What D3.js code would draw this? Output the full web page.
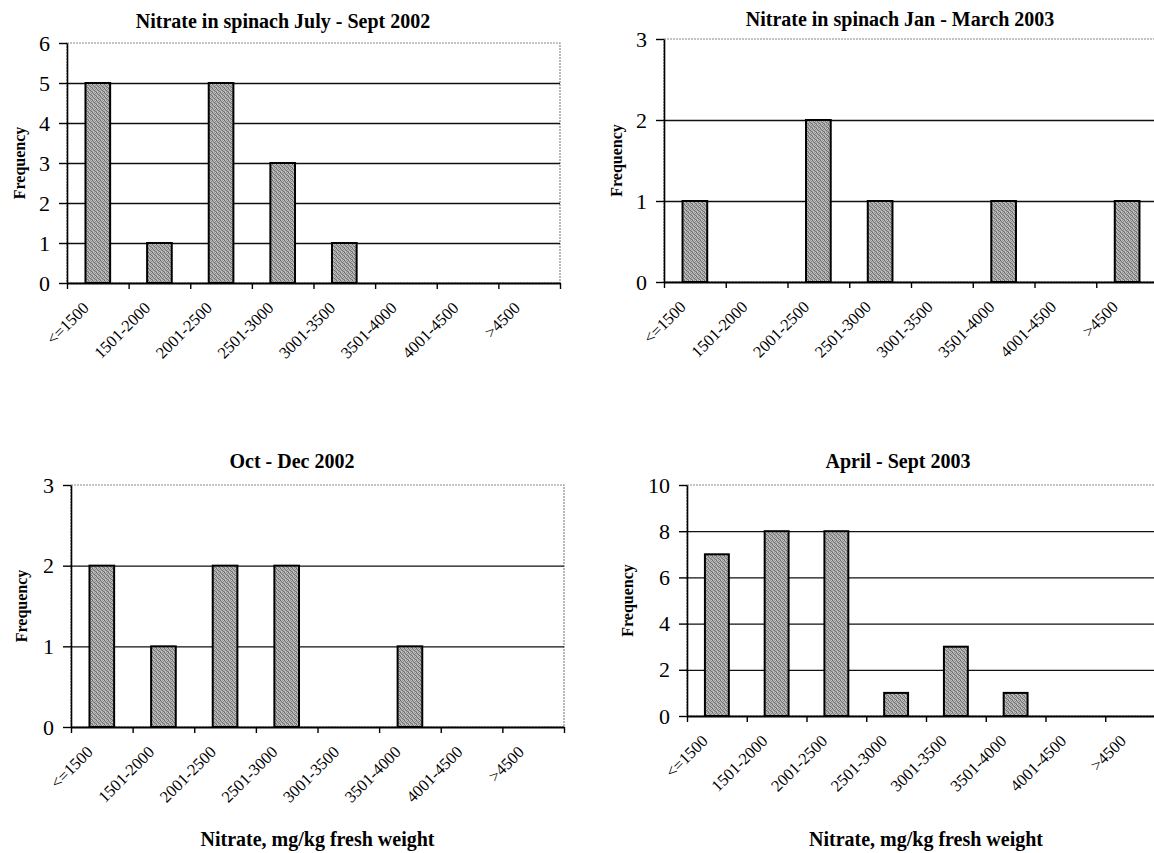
<!DOCTYPE html>
<html>
<head>
<meta charset="utf-8">
<script src="https://cdn.jsdelivr.net/npm/d3@7"></script>
<style>
  html, body { margin: 0; padding: 0; background: #fff; }
  svg { display: block; }
  text { font-family: "Liberation Serif", "Times New Roman", serif; fill: #000; }
</style>
</head>
<body>
<svg id="chart" width="1154" height="853"></svg>
<script>
// ---- data ----
const categories = ["<=1500", "1501-2000", "2001-2500", "2501-3000", "3001-3500", "3501-4000", "4001-4500", ">4500"];
const julySept2002 = [5, 1, 5, 3, 1, 0, 0, 0];
const janMarch2003 = [1, 0, 2, 1, 0, 1, 0, 1];
const octDec2002 = [2, 1, 2, 2, 0, 1, 0, 0];
const aprilSept2003 = [7, 8, 8, 1, 3, 1, 0, 0];
const yTicksJulySept2002 = [0, 1, 2, 3, 4, 5, 6];
const yTicksJanMarch2003 = [0, 1, 2, 3];
const yTicksOctDec2002 = [0, 1, 2, 3];
const yTicksAprilSept2003 = [0, 2, 4, 6, 8, 10];
const titles = ["Nitrate in spinach July - Sept  2002", "Nitrate in spinach Jan - March  2003", "Oct - Dec  2002", "April - Sept  2003"];
const yAxisTitle = "Frequency";
const xAxisTitle = "Nitrate, mg/kg fresh weight";

// ---- layout ----
const panels = [
  { title: titles[0], values: julySept2002, ticks: yTicksJulySept2002, left: 67, right: 560, top: 43, bottom: 283, titleX: 283, titleY: 28, freqX: 19, xTitle: false },
  { title: titles[1], values: janMarch2003, ticks: yTicksJanMarch2003, left: 664, right: 1158, top: 39, bottom: 282, titleX: 900, titleY: 26, freqX: 616, xTitle: false },
  { title: titles[2], values: octDec2002, ticks: yTicksOctDec2002, left: 71, right: 564, top: 485, bottom: 727, titleX: 292, titleY: 468, freqX: 21, xTitle: true },
  { title: titles[3], values: aprilSept2003, ticks: yTicksAprilSept2003, left: 687, right: 1165, top: 485, bottom: 716, titleX: 898, titleY: 468, freqX: 627, xTitle: true }
];

const svg = d3.select("#chart");
const defs = svg.append("defs");
// stipple fill resembling the scanned halftone grey
const stippleCells = [
  "#6a6a6a", "#b8b8b8", "#9a9a9a", "#c4c4c4",
  "#a8a8a8", "#7e7e7e", "#c0c0c0", "#8a8a8a",
  "#bcbcbc", "#969696", "#707070", "#b0b0b0",
  "#8e8e8e", "#c6c6c6", "#a2a2a2", "#787878"
];
const pat = defs.append("pattern").attr("id", "stipple").attr("width", 4).attr("height", 4).attr("patternUnits", "userSpaceOnUse");
pat.selectAll("rect").data(stippleCells).join("rect")
  .attr("x", (d, i) => i % 4).attr("y", (d, i) => Math.floor(i / 4))
  .attr("width", 1).attr("height", 1).attr("fill", d => d);

panels.forEach(p => {
  const g = svg.append("g");
  const yMax = d3.max(p.ticks);
  const x = d3.scaleBand().domain(categories).range([p.left, p.right]).paddingInner(0.6).paddingOuter(0.3);
  const xb = d3.scaleLinear().domain([0, categories.length]).range([p.left, p.right]);
  const y = d3.scaleLinear().domain([0, yMax]).range([p.bottom, p.top]);

  // plot border (dotted grey)
  g.append("rect")
    .attr("x", p.left).attr("y", p.top)
    .attr("width", p.right - p.left).attr("height", p.bottom - p.top)
    .attr("fill", "none").attr("stroke", "#8a8a8a").attr("stroke-width", 1.2)
    .attr("stroke-dasharray", "2,1");

  // gridlines
  g.append("g")
    .attr("transform", `translate(${p.left},0)`)
    .call(d3.axisLeft(y).tickValues(p.ticks.filter(t => t > 0 && t < yMax)).tickSize(-(p.right - p.left)).tickFormat(""))
    .call(s => s.select(".domain").remove())
    .call(s => s.selectAll("line").attr("stroke", "#111").attr("stroke-width", 1.3));

  // bars
  g.append("g").selectAll("rect")
    .data(p.values.map((v, i) => ({ c: categories[i], v })).filter(d => d.v > 0))
    .join("rect")
    .attr("x", d => x(d.c))
    .attr("y", d => y(d.v))
    .attr("width", x.bandwidth())
    .attr("height", d => y(0) - y(d.v))
    .attr("fill", "url(#stipple)")
    .attr("stroke", "#000")
    .attr("stroke-width", 2);

  // y axis
  g.append("g")
    .attr("transform", `translate(${p.left},0)`)
    .call(d3.axisLeft(y).tickValues(p.ticks).tickSize(8).tickPadding(9).tickSizeOuter(0).tickFormat(d3.format("d")))
    .call(s => s.select(".domain").attr("stroke", "#000").attr("stroke-width", 1.6))
    .call(s => s.selectAll("line").attr("stroke", "#000").attr("stroke-width", 1.4))
    .call(s => s.selectAll("text").attr("font-size", 22).attr("font-family", "'Liberation Serif', 'Times New Roman', serif").attr("fill", "#000"));

  // x axis: boundary tick marks
  g.append("g")
    .attr("transform", `translate(0,${p.bottom})`)
    .call(d3.axisBottom(xb).tickValues(d3.range(categories.length + 1)).tickSize(6).tickSizeOuter(0).tickFormat(""))
    .call(s => s.select(".domain").attr("stroke", "#000").attr("stroke-width", 1.8))
    .call(s => s.selectAll("line").attr("stroke", "#000").attr("stroke-width", 1.4));

  // x axis: category labels rotated
  g.append("g")
    .attr("transform", `translate(0,${p.bottom})`)
    .call(d3.axisBottom(x).tickSize(0).tickSizeOuter(0))
    .call(s => s.select(".domain").remove())
    .call(s => s.selectAll("text")
      .attr("y", 0).attr("dy", 0)
      .attr("text-anchor", "end")
      .attr("transform", "translate(-8,26) rotate(-45)")
      .attr("font-size", 16.5)
      .attr("font-family", "'Liberation Serif', 'Times New Roman', serif")
      .attr("fill", "#000"));

  // title
  g.append("text")
    .attr("x", p.titleX).attr("y", p.titleY)
    .attr("text-anchor", "middle")
    .attr("font-size", 20).attr("font-weight", "bold")
    .text(p.title);

  // y axis title
  g.append("text")
    .attr("transform", `translate(${p.freqX},${(p.top + p.bottom) / 2}) rotate(-90)`)
    .attr("text-anchor", "middle")
    .attr("dominant-baseline", "central")
    .attr("font-size", 16).attr("font-weight", "bold")
    .text(yAxisTitle);

  if (p.xTitle) {
    g.append("text")
      .attr("x", (p.left + p.right) / 2).attr("y", 846)
      .attr("text-anchor", "middle")
      .attr("font-size", 20).attr("font-weight", "bold")
      .text(xAxisTitle);
  }
});
</script>
</body>
</html>
